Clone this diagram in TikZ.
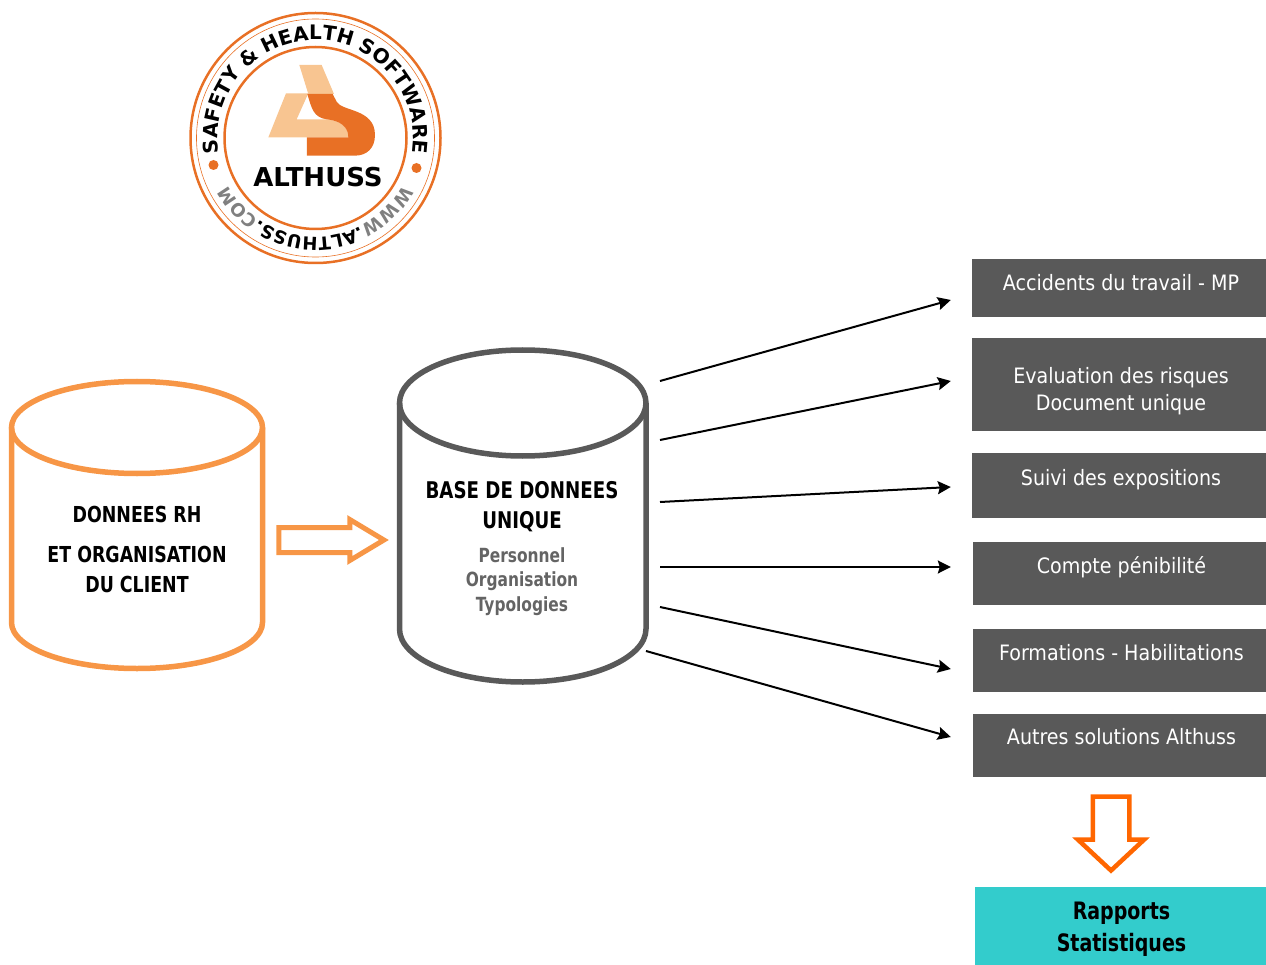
\documentclass[tikz,border=0pt]{standalone}
\usepackage{fontspec}
\setmainfont{DejaVu Sans Condensed}[BoldFeatures={FakeStretch=0.88}]
\newfontfamily\logofont{DejaVu Sans}
\usetikzlibrary{arrows.meta, positioning, shapes.arrows, calc, decorations.text}
\definecolor{althussorange}{RGB}{232,112,37}
\definecolor{althusslight}{RGB}{248,197,145}
\definecolor{sourceorange}{RGB}{247,150,70}
\definecolor{arrowdown}{RGB}{255,102,0}
\definecolor{basegray}{RGB}{89,89,89}
\definecolor{listgray}{RGB}{100,100,100}
\definecolor{wwwgray}{RGB}{128,128,128}
\definecolor{reportteal}{RGB}{51,204,204}
\newcommand{\rimfont}[1]{\logofont\bfseries\fontsize{#1}{#1}\selectfont}
\tikzset{
  dbcyl/.style={line width=5.5pt},
  outbox/.style={fill=basegray, text=white, inner sep=0pt, minimum width=298pt, font=\fontsize{21.2}{27}\selectfont, align=center},
  flow/.style={-{Stealth[length=13pt, width=13pt, inset=2pt]}, line width=2pt, black},
  hollow/.style={single arrow, draw, fill=white, inner xsep=0pt},
}
\begin{document}
\begin{tikzpicture}[x=1pt, y=-1pt]
  \useasboundingbox (0,0) rectangle (1266,965);
  % Logo
  \begin{scope}[shift={(315.5,138)}, y=1pt]
    \draw[althussorange, line width=2.5pt] (0,0) circle (125);
    \draw[althussorange, line width=0.6pt] (0,0) circle (119);
    \draw[althussorange, line width=2.5pt] (0,0) circle (91);
    \fill[althussorange] (-102,-27) circle (5);
    \fill[althussorange] (101,-30) circle (5);
    \path[decorate, decoration={text along path, text align=center,
      text={|\rimfont{20}|SAFETY {\&} HEALTH SOFTWARE}}]
      (187:98) arc[start angle=187, end angle=-7, radius=98];
    \path[decorate, decoration={text along path, text align=center,
      text={|\rimfont{18}\color{wwwgray}|WWW|\rimfont{18}\color{black}|.ALTHUSS.|\rimfont{18}\color{wwwgray}|COM}}]
      (-24:99) arc[start angle=-24, end angle=-156, radius=99];
  \end{scope}
  \begin{scope}[shift={(180,0)}, x=0.3333pt, y=-0.3333pt]
    \fill[althusslight] (358,195) -- (425,195) -- (462,282) -- (385,282) -- cycle;
    \fill[althusslight] (318,280) -- (385,280) -- (350,358) -- (440,358)
      .. controls (480,362) and (505,380) .. (505,412) -- (265,412) -- cycle;
    \fill[althussorange] (382,282) -- (458,282) -- (470,305)
      .. controls (485,335) and (585,325) .. (585,405)
      .. controls (585,445) and (560,467) .. (525,467) -- (381,467) -- (381,412) -- (505,412)
      .. controls (505,380) and (480,362) .. (440,358)
      .. controls (400,352) and (395,325) .. (382,282) -- cycle;
  \end{scope}
  \node[font=\logofont\bfseries\fontsize{26}{26}\selectfont, inner sep=0pt] (logoname) at (318,177) {ALTHUSS};
  % Source cylinder
  \node[inner sep=0pt, outer sep=0pt, minimum width=256pt, minimum height=292pt] (rh) at (137,525) {};
  \draw[dbcyl, sourceorange] (137,427.5) ellipse [x radius=125.5, y radius=46];
  \draw[dbcyl, sourceorange] (11.5,427.5) -- (11.5,622.5) arc[start angle=180, end angle=0, x radius=125.5, y radius=46] -- (262.5,427.5);
  \node[font=\bfseries\fontsize{22}{30}\selectfont, align=center, inner sep=0pt] (rhtext) at (137,549.5) {DONNEES RH\\[10pt] ET ORGANISATION\\ DU CLIENT};
  % Single database
  \node[inner sep=0pt, outer sep=0pt, minimum width=251pt, minimum height=337pt] (db) at (522.5,516) {};
  \draw[dbcyl, basegray] (522.75,403) ellipse [x radius=123.25, y radius=53];
  \draw[dbcyl, basegray] (399.5,403) -- (399.5,629) arc[start angle=180, end angle=0, x radius=123.25, y radius=53] -- (646,403);
  \node[font=\bfseries\fontsize{23}{30}\selectfont, align=center, inner sep=0pt] (dbtitle) at (522,507) {BASE DE DONNEES\\ UNIQUE};
  \node[font=\bfseries\fontsize{19.5}{24.5}\selectfont, text=listgray, align=center, inner sep=0pt] (dblist) at (522,581.5) {Personnel\\ Organisation\\ Typologies};
  % Hollow arrows
  \node[hollow, draw=sourceorange, line width=5pt, inner ysep=10pt, minimum height=105pt, minimum width=36pt, single arrow head extend=8pt, single arrow tip angle=62] (feed) at (321,540) {};
  \node[hollow, draw=arrowdown, line width=4.5pt, inner ysep=16pt, rotate=-90, minimum height=74pt, minimum width=62pt, single arrow head extend=15pt, single arrow tip angle=94] (toreport) at (1111,825) {};
  % Output boxes
  \node[outbox, text height=32pt, text depth=26pt] (acc) at (1121,288) {Accidents du travail - MP};
  \node[outbox, minimum height=93pt] (eval) at (1121,384.5) {\rule{0pt}{4pt}\\[-1pt] Evaluation des risques\\ Document unique};
  \node[outbox, text height=32pt, text depth=33pt] (suivi) at (1121,485.5) {Suivi des expositions};
  \node[outbox, minimum width=297pt, text height=31pt, text depth=32pt] (penib) at (1121.5,573.5) {Compte pénibilité};
  \node[outbox, minimum width=297pt, text height=31pt, text depth=32pt] (form) at (1121.5,660.5) {Formations - Habilitations};
  \node[outbox, minimum width=297pt, text height=30pt, text depth=33pt] (autres) at (1121.5,745.5) {Autres solutions Althuss};
  \node[fill=reportteal, inner sep=0pt, minimum width=293pt, minimum height=78pt, font=\bfseries\fontsize{24}{32}\selectfont, align=center] (report) at (1121.5,926) {\rule{0pt}{6pt}\\[-15pt] Rapports\\ Statistiques};
  % Connectors
  \draw[flow] ($(db.east)+(12,-135)$) -- ($(acc.west)+(-21,12)$);
  \draw[flow] ($(db.east)+(12,-76)$) -- ($(eval.west)+(-21,-3.5)$);
  \draw[flow] ($(db.east)+(12,-14)$) -- ($(suivi.west)+(-21,1.5)$);
  \draw[flow] ($(db.east)+(12,51)$) -- ($(penib.west)+(-22,-6.5)$);
  \draw[flow] ($(db.east)+(12,91)$) -- ($(form.west)+(-22,8.5)$);
  \draw[flow] ($(db.east)+(-2,135)$) -- ($(autres.west)+(-22,-8.5)$);
\end{tikzpicture}
\end{document}
